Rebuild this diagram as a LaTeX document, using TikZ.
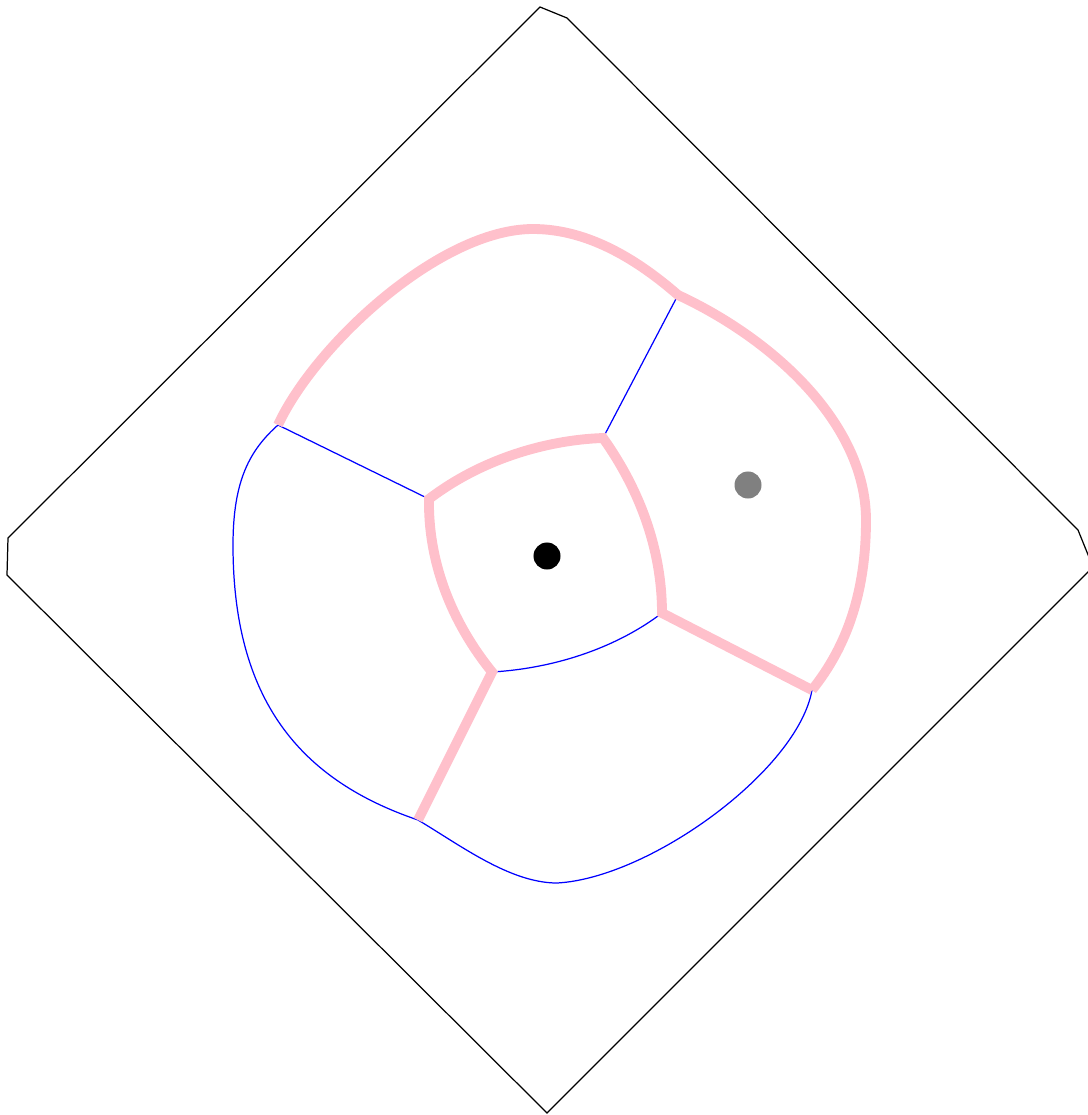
\documentclass[tikz,border=0pt]{standalone}
\usepackage{xcolor}
\usepackage{tikz}
\definecolor{cellpink}{RGB}{255,192,203}
\definecolor{sitegray}{RGB}{128,128,128}

\begin{document}
\begin{tikzpicture}[
    x=0.01cm,y=-0.01cm,
    frame/.style={draw=black,line width=0.35pt},
    thinedge/.style={draw=blue,line width=0.35pt},
    thickedge/.style={draw=cellpink,line width=2.8pt,line join=miter},
    site/.style={circle,fill=black,inner sep=0pt,minimum size=0.27cm}
]
\useasboundingbox (0,0) rectangle (1088,1115);

% corners of the cells
\coordinate (nw) at (278,425);
\coordinate (ne) at (678,295);
\coordinate (se) at (812,690);
\coordinate (sw) at (418,820);
\coordinate (a) at (429,499);
\coordinate (b) at (603,438);
\coordinate (c) at (662,613);
\coordinate (d) at (492,672);
% turning points of the outer curves
\coordinate (top) at (533,229);
\coordinate (right) at (866,520);
\coordinate (bottom) at (557,883);
\coordinate (left) at (233,545);

% outer frame
\begin{scope}
\clip (0,0) rectangle (1088,1115);
\draw[frame] (540,7) -- (567,18) -- (1078,530) -- (1093,567) -- (547,1113)
    -- (7,575) -- (8,538) -- cycle;
\end{scope}

% thin edges
\draw[thinedge] (se) .. controls (798,770) and (650,878) .. (bottom)
    .. controls (510,883) and (460,845) .. (sw)
    .. controls (300,780) and (233,700) .. (left)
    .. controls (233,480) and (250,450) .. (nw);
\draw[thinedge] (d) .. controls (560,668) and (620,645) .. (c);
\draw[thinedge] (nw) -- (a);
\draw[thinedge] (ne) -- (b);

% thick edges
\draw[thickedge] (nw) .. controls (315,345) and (440,229) .. (top)
    .. controls (590,229) and (640,262) .. (ne)
    .. controls (775,340) and (866,425) .. (right)
    .. controls (866,590) and (848,645) .. (se);
\draw[thickedge] (sw) -- (d)
    .. controls (450,620) and (428,560) .. (a)
    .. controls (480,460) and (545,440) .. (b)
    .. controls (640,490) and (662,550) .. (c)
    -- (se);

% sites
\node[site] (inner) at (547,556) {};
\node[site,fill=sitegray] (outer) at (748,485) {};
\end{tikzpicture}
\end{document}
